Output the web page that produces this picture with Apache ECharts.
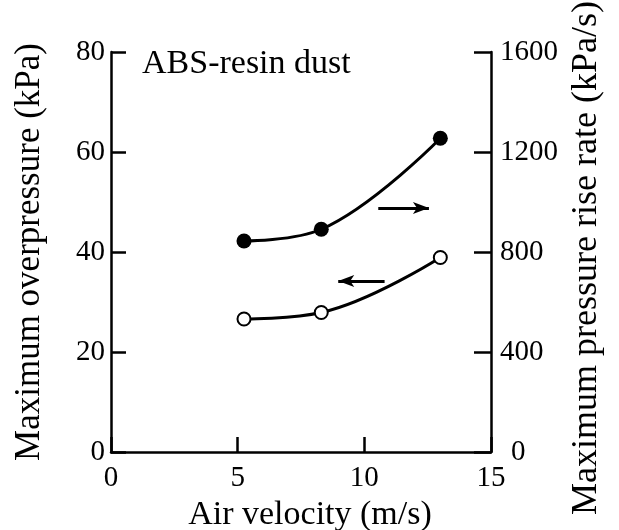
<!DOCTYPE html>
<html>
<head>
<meta charset="utf-8">
<script src="https://cdn.jsdelivr.net/npm/echarts@6/dist/echarts.min.js"></script>
<style>
  html, body { margin: 0; padding: 0; background: #fff; }
  #chart { width: 619px; height: 530px; }
</style>
</head>
<body>
<div id="chart"></div>
<script>
// Air velocity (m/s) at the three measurement points
const airVelocity = [5.25, 8.3, 13.0];
// Maximum overpressure (kPa), left axis, open circles
const maxOverpressure = [26.6, 27.9, 38.9];
// Maximum pressure rise rate (kPa/s), right axis, filled circles
const maxRiseRate = [844, 891, 1255];

const xRange = [0, 15, 5];
const leftRange = [0, 80, 20];
const rightRange = [0, 1600, 400];

const FONT = 'Liberation Serif';

const pair = (xs, ys) => xs.map((x, i) => [x, ys[i]]);

const axisLine = { show: true, lineStyle: { color: '#000', width: 2.5 } };
const axisTick = { show: true, inside: true, length: 15, lineStyle: { color: '#000', width: 2.5 } };

const chart = echarts.init(document.getElementById('chart'));
chart.setOption({
  backgroundColor: '#fff',
  animation: false,
  title: {
    text: 'ABS-resin dust',
    left: 137, top: 42,
    textStyle: { fontFamily: FONT, fontSize: 34, fontWeight: 'normal', color: '#000' }
  },
  grid: { left: 111, right: 128, top: 52, bottom: 78, containLabel: false, outerBoundsMode: 'none' },
  xAxis: {
    type: 'value',
    min: xRange[0], max: xRange[1], interval: xRange[2],
    name: 'Air velocity (m/s)',
    nameLocation: 'middle', nameGap: 45,
    nameTextStyle: { fontFamily: FONT, fontSize: 34, color: '#000', padding: [0, 0, 0, 18] },
    axisLine, axisTick,
    splitLine: { show: false },
    axisLabel: { fontFamily: FONT, fontSize: 29, color: '#000', margin: 12 }
  },
  yAxis: [
    {
      type: 'value', position: 'left',
      min: leftRange[0], max: leftRange[1], interval: leftRange[2],
      name: 'Maximum overpressure (kPa)',
      nameLocation: 'middle', nameGap: 64, nameRotate: 90,
      nameTextStyle: { fontFamily: FONT, fontSize: 35, color: '#000' },
      axisLine, axisTick,
      splitLine: { show: false },
      axisLabel: { fontFamily: FONT, fontSize: 29, color: '#000', margin: 6 }
    },
    {
      type: 'value', position: 'right',
      min: rightRange[0], max: rightRange[1], interval: rightRange[2],
      name: 'Maximum pressure rise rate (kPa/s)',
      nameLocation: 'middle', nameGap: 69, nameRotate: 90,
      nameTextStyle: { fontFamily: FONT, fontSize: 36, color: '#000', padding: [0, 12, 0, 0] },
      axisLine, axisTick: Object.assign({}, axisTick, { length: 17 }),
      splitLine: { show: false },
      axisLabel: {
        fontFamily: FONT, fontSize: 29, color: '#000', margin: 9,
        formatter: v => (v === 0 ? '{z|0}' : String(v)),
        rich: { z: { fontFamily: FONT, fontSize: 29, color: '#000', padding: [0, 0, 0, 11] } }
      }
    }
  ],
  series: [
    {
      name: 'Maximum overpressure',
      type: 'line', yAxisIndex: 0,
      data: pair(airVelocity, maxOverpressure),
      smooth: 0.4,
      symbol: 'circle', symbolSize: 13,
      lineStyle: { color: '#000', width: 3 },
      itemStyle: { color: '#fff', borderColor: '#000', borderWidth: 2 },
      markLine: {
        silent: true, symbol: ['arrow', 'none'], symbolSize: [9, 16],
        label: { show: false },
        lineStyle: { color: '#000', width: 3, type: 'solid' },
        data: [[{ coord: [8.97, 34.2] }, { coord: [10.8, 34.2] }]]
      },
      z: 3
    },
    {
      name: 'Maximum pressure rise rate',
      type: 'line', yAxisIndex: 1,
      data: pair(airVelocity, maxRiseRate),
      smooth: 0.4,
      symbol: 'circle', symbolSize: 15,
      lineStyle: { color: '#000', width: 3 },
      itemStyle: { color: '#000', borderColor: '#000', borderWidth: 0 },
      markLine: {
        silent: true, symbol: ['none', 'arrow'], symbolSize: [9, 16],
        label: { show: false },
        lineStyle: { color: '#000', width: 3, type: 'solid' },
        data: [[{ coord: [10.55, 976] }, { coord: [12.55, 976] }]]
      },
      z: 3
    }
  ]
});
</script>
</body>
</html>
